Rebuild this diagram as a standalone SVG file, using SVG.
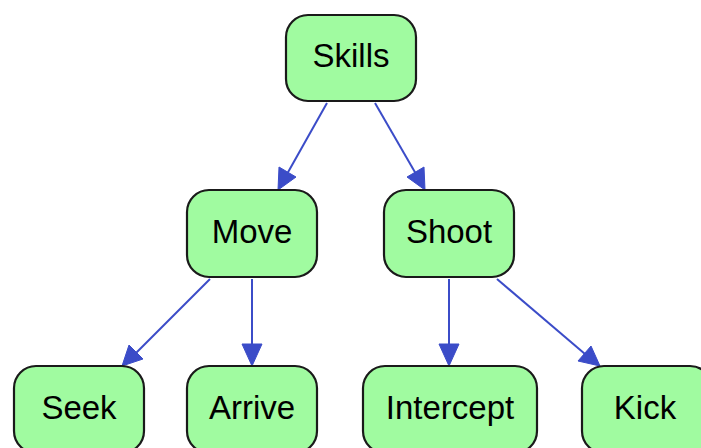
<svg xmlns="http://www.w3.org/2000/svg" width="701" height="448" viewBox="0 0 701 448">
<style>
.n rect{fill:#a0fba0;stroke:#1a1a1a;stroke-width:2.2}
.n text{font-family:"Liberation Sans",Arial,sans-serif;font-size:33px;fill:#000;text-anchor:middle}
.e line{stroke:#3b4cc8;stroke-width:2}
.e polygon{fill:#3b4cc8;stroke:#3b4cc8;stroke-width:1}
</style>
<rect width="701" height="448" fill="#fff"/>
<g class="e" id="edges">
<line x1="327" y1="103" x2="287" y2="174"/><polygon points="278,190 279,167 296,177"/>
<line x1="375" y1="103" x2="416" y2="174"/><polygon points="425,190 407,177 424,167"/>
<line x1="210" y1="279" x2="136" y2="353"/><polygon points="122,366 129,345 143,359"/>
<line x1="252" y1="279" x2="252" y2="348"/><polygon points="252,366 242,344 262,344"/>
<line x1="449" y1="279" x2="449" y2="348"/><polygon points="449,366 439,344 459,344"/>
<line x1="497" y1="279" x2="585" y2="354"/><polygon points="600,366 578,361 591,346"/>
</g>
<g class="n" id="skills"><rect x="286" y="15" width="130" height="86" rx="22"/><text x="351" y="67">Skills</text></g>
<g class="n" id="move"><rect x="187" y="190" width="130" height="87" rx="22"/><text x="252" y="243">Move</text></g>
<g class="n" id="shoot"><rect x="384" y="190" width="130" height="87" rx="22"/><text x="449" y="243">Shoot</text></g>
<g class="n" id="seek"><rect x="14" y="366" width="130" height="87" rx="22"/><text x="79" y="419">Seek</text></g>
<g class="n" id="arrive"><rect x="187" y="366" width="130" height="87" rx="22"/><text x="252" y="419">Arrive</text></g>
<g class="n" id="intercept"><rect x="363" y="366" width="174" height="87" rx="22"/><text x="450" y="419">Intercept</text></g>
<g class="n" id="kick"><rect x="582" y="366" width="130" height="87" rx="22"/><text x="645" y="419">Kick</text></g>
</svg>
